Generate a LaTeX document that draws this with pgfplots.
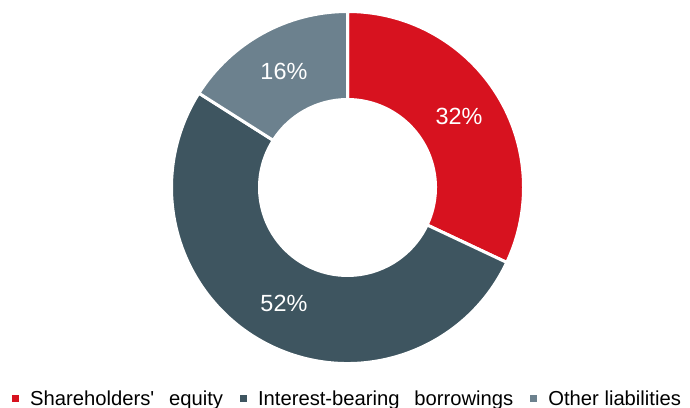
\documentclass[border=0pt]{standalone}
\usepackage{fontspec}
\setmainfont{Liberation Sans}
\newfontfamily\rawfont{Liberation Sans}
\usepackage{pgfplots}
\usepackage{pgfplotstable}
\pgfplotsset{compat=1.18}

\definecolor{cEquity}{HTML}{D7121F}
\definecolor{cBorrow}{HTML}{3E5560}
\definecolor{cOther}{HTML}{6C818E}

\newcommand\labelfont{\fontsize{23.5}{23.5}\selectfont}
\newcommand\legfont{\fontsize{20.3}{20.3}\selectfont}

% share of total financing, percent
\pgfplotstableread{
value colour
32 cEquity
52 cBorrow
16 cOther
}\sharetable

\begin{document}
\begin{tikzpicture}
\begin{axis}[
    scale only axis,
    width=690bp, height=407bp,
    xmin=0, xmax=690, ymin=0, ymax=407,
    axis lines=none,
    clip=false,
    legend columns=3,
    legend image code/.code={\fill (0bp,-3.5bp) rectangle (7bp,3.5bp);},
    legend style={
        draw=none, fill=none, inner sep=0pt,
        at={(axis cs:12,1)}, anchor=south west,
        font=\legfont,
        nodes={inner sep=0pt, text depth=0pt},
        /tikz/every odd column/.append style={column sep=11bp},
        /tikz/every even column/.append style={column sep=17bp},
    },
]
\pgfplotstablegetrowsof{\sharetable}
\pgfmathtruncatemacro\lastrow{\pgfplotsretval-1}
\def\angA{90}
\pgfplotsforeachungrouped \i in {0,...,\lastrow}{%
    \pgfplotstablegetelem{\i}{value}\of\sharetable
    \let\val\pgfplotsretval
    \pgfplotstablegetelem{\i}{colour}\of\sharetable
    \let\col\pgfplotsretval
    \pgfmathsetmacro\angB{\angA-3.6*\val}
    \pgfmathsetmacro\angM{(\angA+\angB)/2}
    \pgfmathsetmacro\xo{347.5+176*cos(\angA)}
    \pgfmathsetmacro\yo{219.5+176*sin(\angA)}
    \pgfmathsetmacro\xin{347.5+88*cos(\angB)}
    \pgfmathsetmacro\yin{219.5+88*sin(\angB)}
    \pgfmathsetmacro\xl{347.5+132*cos(\angM)}
    \pgfmathsetmacro\yl{219.5+132*sin(\angM)}
    \edef\temp{%
        \noexpand\fill[\col, draw=white, line width=3bp]
            (axis cs:\xo,\yo) arc[start angle=\angA, end angle=\angB, radius=176bp]
            -- (axis cs:\xin,\yin) arc[start angle=\angB, end angle=\angA, radius=88bp]
            -- cycle;
        \noexpand\node[text=white, font=\noexpand\labelfont] at (axis cs:\xl,\yl) {\val\noexpand\%};
    }%
    \temp
    \global\let\angA\angB
}
\addlegendimage{fill=cEquity, draw=none}
\addlegendentry{Shareholders{\rawfont'}\hspace{0.45em} equity}
\addlegendimage{fill=cBorrow, draw=none}
\addlegendentry{Interest-bearing\hspace{0.45em} borrowings}
\addlegendimage{fill=cOther, draw=none}
\addlegendentry{Other liabilities}
\end{axis}
\pgfresetboundingbox
\useasboundingbox (current axis.south west) rectangle (current axis.north east);
\end{tikzpicture}
\end{document}
